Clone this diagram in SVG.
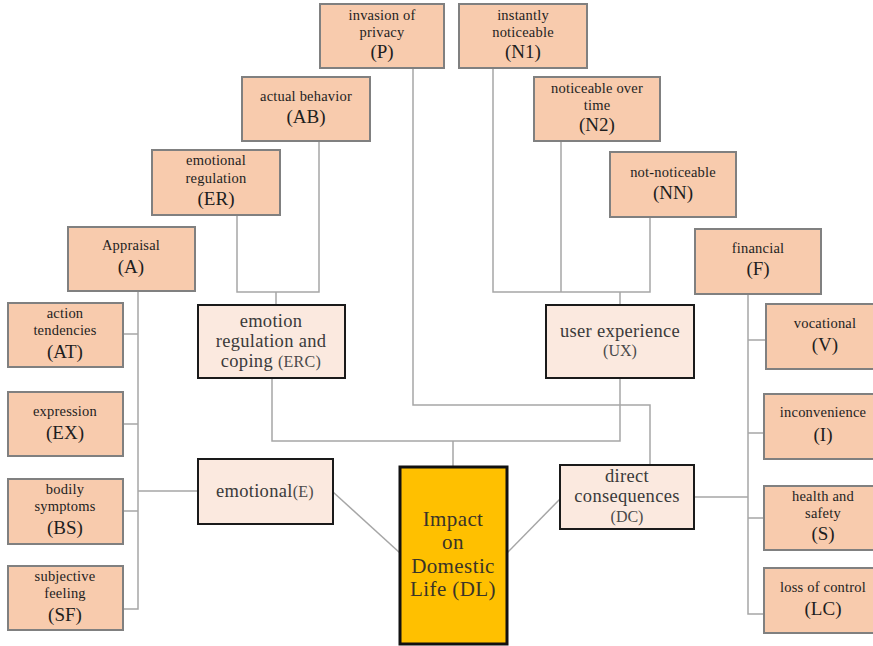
<svg xmlns="http://www.w3.org/2000/svg" width="873" height="646" viewBox="0 0 873 646">
<style>
.pk{fill:#F8CBAD;stroke:#808080;stroke-width:2}
.lt{fill:#FBE9DF;stroke:#1a1a1a;stroke-width:2}
.dl{fill:#FFC000;stroke:#111;stroke-width:3}
text{font-family:"Liberation Serif","DejaVu Serif",serif;text-anchor:middle}
.s{font-size:14.5px;fill:#1e1e1e;letter-spacing:.2px}
.b{font-size:19px;fill:#1e1e1e}
.m{font-size:18.5px;fill:#3a3a3a;letter-spacing:.3px}
.ms{font-size:16px;fill:#4a4a4a}
.d{font-size:21px;fill:#3a3428;letter-spacing:.4px}
.c{fill:none;stroke:#A6A6A6;stroke-width:1.5}
</style>
<rect width="873" height="646" fill="#fff"/>
<g id="connectors" class="c">
<path d="M237 215V292H319V141"/>
<path d="M276 292V305"/>
<path d="M413 68V405H650V465"/>
<path d="M493 68V292H650V217"/>
<path d="M561 141V292"/>
<path d="M620 292V305"/>
<path d="M138 291V609H123"/>
<path d="M123 334H138M123 424H138M123 511H138M138 491H198"/>
<path d="M272 378V441H620V378"/>
<path d="M453 441V467"/>
<path d="M333 492L400 553"/>
<path d="M560 499L507 553"/>
<path d="M694 497H748"/>
<path d="M748 294V614H764"/>
<path d="M748 340H766M748 433H764M748 518H764"/>
</g>
<g id="P"><rect class="pk" x="320" y="4" width="124" height="64"/><text class="s" x="382" y="20">invasion of</text><text class="s" x="382" y="37">privacy</text><text class="b" x="382" y="58">(P)</text></g>
<g id="N1"><rect class="pk" x="459" y="4" width="128" height="64"/><text class="s" x="523" y="20">instantly</text><text class="s" x="523" y="37">noticeable</text><text class="b" x="523" y="58">(N1)</text></g>
<g id="AB"><rect class="pk" x="242" y="77" width="128" height="64"/><text class="s" x="306" y="101">actual behavior</text><text class="b" x="306" y="123">(AB)</text></g>
<g id="N2"><rect class="pk" x="534" y="77" width="126" height="64"/><text class="s" x="597" y="93">noticeable over</text><text class="s" x="597" y="110">time</text><text class="b" x="597" y="131">(N2)</text></g>
<g id="ER"><rect class="pk" x="152" y="150" width="128" height="65"/><text class="s" x="216" y="165">emotional</text><text class="s" x="216" y="183">regulation</text><text class="b" x="216" y="205">(ER)</text></g>
<g id="NN"><rect class="pk" x="610" y="152" width="126" height="65"/><text class="s" x="673" y="177">not-noticeable</text><text class="b" x="673" y="199">(NN)</text></g>
<g id="A"><rect class="pk" x="68" y="227" width="127" height="64"/><text class="s" x="131" y="250">Appraisal</text><text class="b" x="131" y="273">(A)</text></g>
<g id="F"><rect class="pk" x="695" y="229" width="126" height="65"/><text class="s" x="758" y="253">financial</text><text class="b" x="758" y="275">(F)</text></g>
<g id="AT"><rect class="pk" x="8" y="303" width="115" height="64"/><text class="s" x="65" y="318">action</text><text class="s" x="65" y="335">tendencies</text><text class="b" x="65" y="358">(AT)</text></g>
<g id="EX"><rect class="pk" x="8" y="392" width="115" height="64"/><text class="s" x="65" y="416">expression</text><text class="b" x="65" y="439">(EX)</text></g>
<g id="BS"><rect class="pk" x="8" y="479" width="115" height="65"/><text class="s" x="65" y="494">bodily</text><text class="s" x="65" y="511">symptoms</text><text class="b" x="65" y="534">(BS)</text></g>
<g id="SF"><rect class="pk" x="8" y="566" width="115" height="64"/><text class="s" x="65" y="581">subjective</text><text class="s" x="65" y="598">feeling</text><text class="b" x="65" y="621">(SF)</text></g>
<g id="V"><rect class="pk" x="766" y="304" width="120" height="65"/><text class="s" x="825" y="328">vocational</text><text class="b" x="825" y="351">(V)</text></g>
<g id="I"><rect class="pk" x="764" y="394" width="120" height="65"/><text class="s" x="823" y="417">inconvenience</text><text class="b" x="823" y="441">(I)</text></g>
<g id="S"><rect class="pk" x="764" y="486" width="120" height="64"/><text class="s" x="823" y="501">health and</text><text class="s" x="823" y="518">safety</text><text class="b" x="823" y="540">(S)</text></g>
<g id="LC"><rect class="pk" x="764" y="568" width="120" height="65"/><text class="s" x="823" y="592">loss of control</text><text class="b" x="823" y="615">(LC)</text></g>
<g id="ERC"><rect class="lt" x="198" y="305" width="147" height="73"/><text class="m" x="271" y="327">emotion</text><text class="m" x="271" y="347">regulation and</text><text class="m" x="271" y="367">coping <tspan class="ms">(ERC)</tspan></text></g>
<g id="UX"><rect class="lt" x="546" y="305" width="148" height="73"/><text class="m" x="620" y="337">user experience</text><text class="ms" x="620" y="356">(UX)</text></g>
<g id="E"><rect class="lt" x="198" y="459" width="135" height="65"/><text class="m" x="265" y="497">emotional<tspan class="ms">(E)</tspan></text></g>
<g id="DC"><rect class="lt" x="560" y="465" width="134" height="64"/><text class="m" x="627" y="482">direct</text><text class="m" x="627" y="502">consequences</text><text class="ms" x="627" y="522">(DC)</text></g>
<g id="DL"><rect class="dl" x="400" y="467" width="107" height="177"/><text class="d" x="453" y="526">Impact</text><text class="d" x="453" y="549">on</text><text class="d" x="453" y="573">Domestic</text><text class="d" x="453" y="596">Life (DL)</text></g>
</svg>
